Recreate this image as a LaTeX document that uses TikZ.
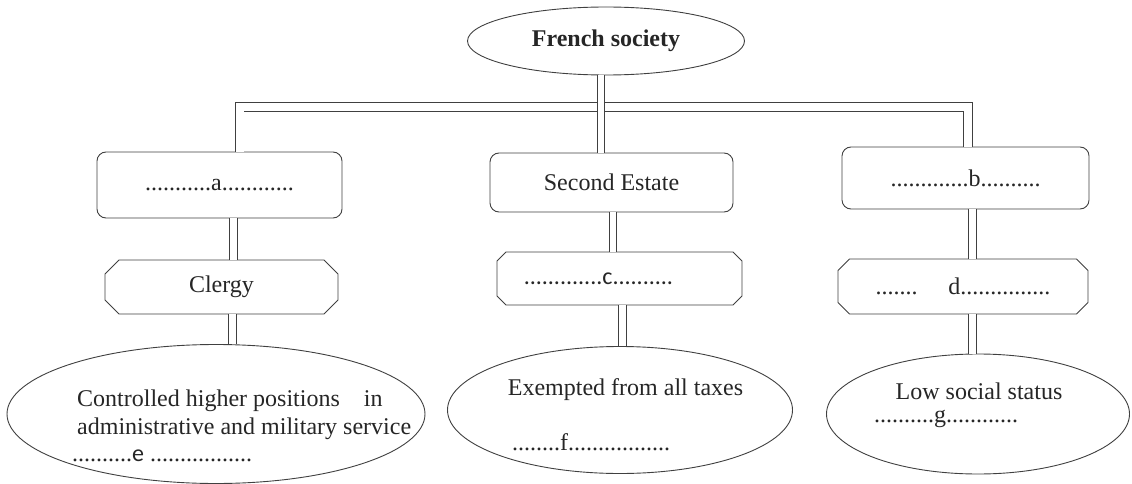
\documentclass[tikz,border=0pt]{standalone}
\usepackage{fontspec}
\setmainfont{Liberation Serif}
\newfontfamily\calfont{Carlito}
\usetikzlibrary{shapes.geometric,shapes.misc}

\begin{document}
\begin{tikzpicture}[x=1pt,y=-1pt,
  every node/.style={font=\fontsize{24}{28}\selectfont, inner sep=0pt, text=black!85},
  outline/.style={draw=black!75, line width=0.9pt, fill=white},
  roundbox/.style={outline, rectangle, rounded corners=9pt},
  cutbox/.style={outline, chamfered rectangle, chamfered rectangle xsep=12pt},
  oval/.style={outline, ellipse},
  pipe/.style={draw=black!75, line width=0.9pt, double=white, double distance=6.5pt},
  txt/.style={anchor=west}
]
\useasboundingbox (0,0) rectangle (1132,484);

% root
\node[oval, minimum width=277pt, minimum height=68pt] (top) at (606,41) {\bfseries French society};

% first row
\node[roundbox, minimum width=245pt, minimum height=66pt] (a) at (219.5,185) {...........a............};
\node[roundbox, minimum width=243pt, minimum height=59pt] (second) at (611.5,182.5) {Second Estate};
\node[roundbox, minimum width=247pt, minimum height=62pt] (b) at (965.5,178) {.............b..........};

% second row
\node[cutbox, minimum width=233pt, minimum height=54pt] (clergy) at (221.5,287) {Clergy};
\node[cutbox, minimum width=245pt, minimum height=53pt] (c) at (619.5,278.5) {\calfont .............c..........\hspace*{42pt}};
\node[cutbox, minimum width=250pt, minimum height=55pt] (d) at (963,286.5) {.......\hspace*{31pt}d...............};

% third row
\node[oval, minimum width=418pt, minimum height=139pt] (e) at (216,414) {};
\node[oval, minimum width=345pt, minimum height=127pt] (f) at (620,410) {};
\node[oval, minimum width=303pt, minimum height=120pt] (g) at (978,414) {};

\node[txt] (e1) at (77,401) {Controlled higher positions\ \ \ \ in};
\node[txt] (e2) at (77,429) {administrative and military service};
\node[txt] (e3) at (72,456) {..........{\calfont e} .................};

\node (f1) at (625.5,390) {Exempted from all taxes};
\node[txt] (f2) at (512,442) {........f.................};

\node (g1) at (979,391) {Low social status};
\node[txt] (g2) at (874,419) {..........g............};

% branching bar
\coordinate (bar) at (601,107);
\draw[pipe, double distance=8pt] ([xshift=20pt]a.north) |- (bar) -| ([xshift=2.5pt]b.north);
\draw[pipe] ([xshift=-5pt]top.south) -- ([xshift=-5pt]top.south |- second.north);

% vertical links
\draw[pipe] ([xshift=14pt]a.south) -- ([xshift=14pt]a.south |- clergy.north);
\draw[pipe] ([xshift=11pt]clergy.south) -- ([xshift=11pt]clergy.south |- e.north);
\draw[pipe] ([xshift=1.5pt]second.south) -- ([xshift=1.5pt]second.south |- c.north);
\draw[pipe] ([xshift=3pt]c.south) -- ([xshift=3pt]c.south |- f.north);
\draw[pipe] ([xshift=7pt]b.south) -- ([xshift=7pt]b.south |- d.north);
\draw[pipe] ([xshift=9.5pt]d.south) -- ([xshift=9.5pt]d.south |- g.north);
\end{tikzpicture}
\end{document}
